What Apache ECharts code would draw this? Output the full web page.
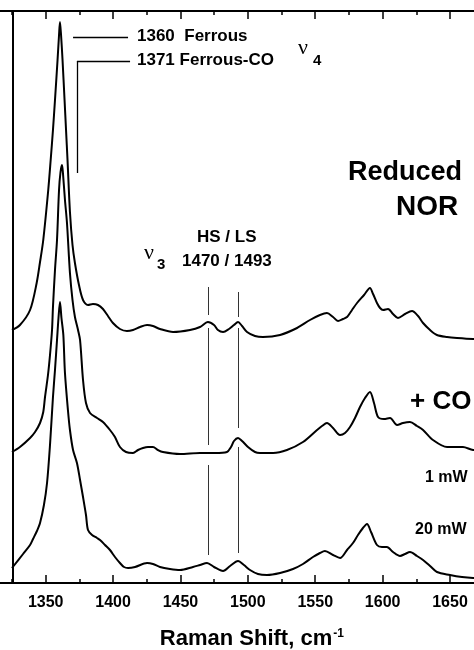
<!DOCTYPE html>
<html>
<head>
<meta charset="utf-8">
<script src="https://cdn.jsdelivr.net/npm/echarts@6.0.0/dist/echarts.min.js"></script>
<style>
  html, body { margin: 0; padding: 0; background: #ffffff; }
  #ramanChart { width: 474px; height: 650px; }
</style>
</head>
<body>
<div id="ramanChart"></div>
<script>
  // traces, already stacked (offset) as drawn
  let reducedShift = [1325.0,1330.9,1338.4,1343.3,1345.8,1348.2,1351.9,1353.7,1355.4,1356.9,1358.8,1359.9,1360.6,1361.4,1362.5,1364.0,1365.1,1366.2,1368.0,1369.9,1371.7,1374.7,1377.7,1381.4,1385.1,1388.8,1392.5,1396.2,1399.9,1405.1,1410.3,1414.8,1420.0,1425.2,1429.6,1434.8,1444.5,1457.1,1464.5,1470.4,1474.9,1477.8,1481.6,1486.0,1489.7,1492.7,1495.7,1499.4,1505.3,1511.2,1523.9,1536.5,1546.1,1553.5,1558.7,1563.2,1566.9,1570.6,1573.6,1577.3,1581.0,1586.2,1590.6,1592.9,1595.8,1598.1,1600.3,1604.0,1607.7,1611.4,1616.6,1621.8,1626.3,1630.0,1635.2,1640.3,1647.8,1655.2,1667.1,1700]
  let reducedInt = [253,258,273,300,321,343,393,423,453,483,523,548,561,548,523,483,453,423,371,338,320,298,283,278,279,278,274,267,260,254,252,253,256,258,257,254,251,253,256,261,258,253,251,254,258,261,257,251,247,246,248,255,263,268,270,266,262,264,266,273,280,288,295,289,280,275,273,274,269,265,269,272,267,260,253,248,246,245,244,243]

  let coShift = [1325.0,1330.9,1338.4,1342.1,1345.8,1348.2,1349.5,1351.7,1353.2,1354.7,1355.4,1356.9,1358.4,1359.9,1361.0,1362.1,1362.8,1364.3,1365.8,1368.0,1369.9,1371.7,1374.0,1375.5,1377.7,1379.9,1382.9,1388.1,1392.5,1397.7,1401.4,1405.1,1409.6,1414.8,1418.5,1422.2,1425.9,1429.6,1433.3,1437.0,1449.7,1464.5,1475.6,1484.5,1487.5,1489.7,1492.7,1495.7,1500.1,1505.3,1509.0,1518.7,1529.0,1540.9,1551.3,1555.0,1558.7,1563.2,1568.4,1572.1,1575.8,1579.5,1583.2,1586.9,1590.6,1593.6,1596.6,1601.0,1605.5,1610.7,1615.1,1620.3,1625.5,1630.0,1637.4,1647.8,1659.6,1667.1,1700]
  let coInt = [131,136,145,151,160,171,186,208,228,253,276,313,343,393,411,418,410,383,360,310,283,266,253,243,203,180,170,165,161,153,146,136,131,130,133,135,136,136,133,131,129,130,130,131,136,142,145,142,136,131,130,130,133,141,153,157,160,155,148,150,156,165,176,185,191,180,166,164,165,158,160,161,157,153,143,136,136,133,131]

  let mw20Shift = [1325.0,1333.2,1338.4,1340.6,1343.5,1345.8,1348.7,1351.0,1353.2,1355.4,1356.9,1358.4,1359.5,1360.6,1361.7,1363.1,1364.3,1366.5,1368.0,1370.3,1373.2,1375.5,1377.7,1379.9,1381.4,1384.4,1388.1,1390.3,1394.0,1397.7,1401.4,1405.1,1408.1,1411.1,1416.3,1425.2,1429.6,1434.8,1442.2,1449.7,1459.3,1464.5,1469.7,1474.9,1481.6,1486.8,1492.7,1497.1,1501.6,1507.5,1514.2,1523.9,1533.5,1540.9,1548.3,1553.5,1557.2,1563.2,1568.4,1573.6,1578.0,1581.7,1585.4,1588.4,1591.4,1595.8,1599.5,1603.2,1607.7,1612.9,1616.6,1620.3,1625.5,1630.0,1635.2,1640.3,1650.0,1658.9,1667.1,1700]
  let mw20Int = [15,29,38,44,52,60,78,100,138,186,213,243,265,281,265,248,210,173,153,133,120,103,86,68,53,48,45,43,38,33,26,20,16,15,16,20,19,16,14,13,16,18,20,16,12,17,22,18,13,9,8,10,14,19,26,30,32,28,25,33,40,48,55,59,51,38,36,36,31,27,29,31,27,23,17,11,8,6,5,3]

  // marker lines: [x1, y1, x2, y2]
  let leaderLines = [[1370.3,546,1411.1,546],[1373.2,522,1412.6,522],[1373.2,522,1373.2,410]]
  let hsLsLines = [[1470.4,296,1470.4,268],[1470.4,255,1470.4,138],[1470.4,118,1470.4,28],
                   [1493.1,291,1493.1,266],[1493.1,255,1493.1,155],[1493.1,136,1493.1,30]]

  let font = 'Liberation Sans, Arial, Helvetica, sans-serif'

  function zip(xs, ys){
    return xs.map(function(x, i){ return [x, ys[i]] })
  }
  function segs(list, width, color){
    return list.map(function(s){
      return [{coord:[s[0],s[1]], lineStyle:{width:width, color:color, type:'solid'}},{coord:[s[2],s[3]]}]
    })
  }
  function trace(name, data, marks){
    let s = {
      name: name,
      type: 'line',
      data: data,
      showSymbol: false,
      smooth: 0.3,
      lineStyle: {color:'#000', width:2},
      z: 3
    }
    if(marks){
      s.markLine = {
        silent: true,
        symbol: 'none',
        label: {show:false},
        data: marks
      }
    }
    return s
  }

  let hideEnds = function(v){ return (v <= 1300 || v >= 1700) ? '' : String(v) }

  let myChart = echarts.init(document.getElementById('ramanChart'))
  myChart.setOption({
    animation: false,
    backgroundColor: '#fff',
    grid: {left:-21.7, right:-43.4, top:11, bottom:67, outerBoundsMode:'none', containLabel:false},
    xAxis: [{
      type: 'value', position: 'bottom', min: 1300, max: 1700, interval: 50,
      axisLine: {onZero:false, lineStyle:{color:'#000', width:2}},
      axisTick: {inside:true, length:8, lineStyle:{color:'#000', width:1.5}},
      minorTick: {show:true, splitNumber:2, length:4, lineStyle:{color:'#000', width:1.5}},
      splitLine: {show:false},
      axisLabel: {color:'#000', fontSize:16, fontWeight:'bold', fontFamily:font, margin:12, formatter:hideEnds},
      name: 'Raman Shift, cm{sup|-1}',
      nameLocation: 'middle',
      nameGap: 45,
      nameTextStyle: {color:'#000', fontSize:22, fontWeight:'bold', fontFamily:font, padding:[0,0,0,8],
        rich: {sup:{fontSize:12, fontWeight:'bold', fontFamily:font, color:'#000', verticalAlign:'top', padding:[0,0,10,1]}}}
    },{
      type: 'value', position: 'top', min: 1300, max: 1700, interval: 50,
      axisLine: {onZero:false, lineStyle:{color:'#000', width:2}},
      axisTick: {inside:true, length:8, lineStyle:{color:'#000', width:1.5}},
      minorTick: {show:true, splitNumber:2, length:4, lineStyle:{color:'#000', width:1.5}},
      splitLine: {show:false},
      axisLabel: {show:false}
    }],
    yAxis: {
      type: 'value', min: 0, max: 572, offset: -34.7,
      axisLine: {show:true, onZero:false, lineStyle:{color:'#000', width:2}},
      axisTick: {show:false},
      axisLabel: {show:false},
      splitLine: {show:false}
    },
    series: [
      trace('Reduced NOR', zip(reducedShift, reducedInt), segs(leaderLines, 1.3, '#000').concat(segs(hsLsLines, 1, '#333'))),
      trace('+ CO, 1 mW', zip(coShift, coInt)),
      trace('+ CO, 20 mW', zip(mw20Shift, mw20Int))
    ],
    graphic: [
      {type:'text', left:137, top:28, style:{text:'1360  Ferrous', font:'bold 17px ' + font, fill:'#000'}},
      {type:'text', left:137, top:52, style:{text:'1371 Ferrous-CO', font:'bold 17px ' + font, fill:'#000'}},
      {type:'text', left:298, top:37, style:{text:'\u03bd', font:'22px Liberation Serif, serif', fill:'#000'}},
      {type:'text', left:313, top:53, style:{text:'4', font:'bold 15px ' + font, fill:'#000'}},
      {type:'text', left:348, top:159, style:{text:'Reduced', font:'bold 27px ' + font, fill:'#000'}},
      {type:'text', left:396, top:193, style:{text:'NOR', font:'bold 28px ' + font, fill:'#000'}},
      {type:'text', left:197, top:229, style:{text:'HS / LS', font:'bold 17px ' + font, fill:'#000'}},
      {type:'text', left:144, top:242, style:{text:'\u03bd', font:'22px Liberation Serif, serif', fill:'#000'}},
      {type:'text', left:157, top:257, style:{text:'3', font:'bold 15px ' + font, fill:'#000'}},
      {type:'text', left:182, top:253, style:{text:'1470 / 1493', font:'bold 17px ' + font, fill:'#000'}},
      {type:'text', left:410, top:389, style:{text:'+ CO', font:'bold 26px ' + font, fill:'#000'}},
      {type:'text', left:425, top:470, style:{text:'1 mW', font:'bold 16px ' + font, fill:'#000'}},
      {type:'text', left:415, top:522, style:{text:'20 mW', font:'bold 16px ' + font, fill:'#000'}}
    ]
  })
</script>
</body>
</html>
